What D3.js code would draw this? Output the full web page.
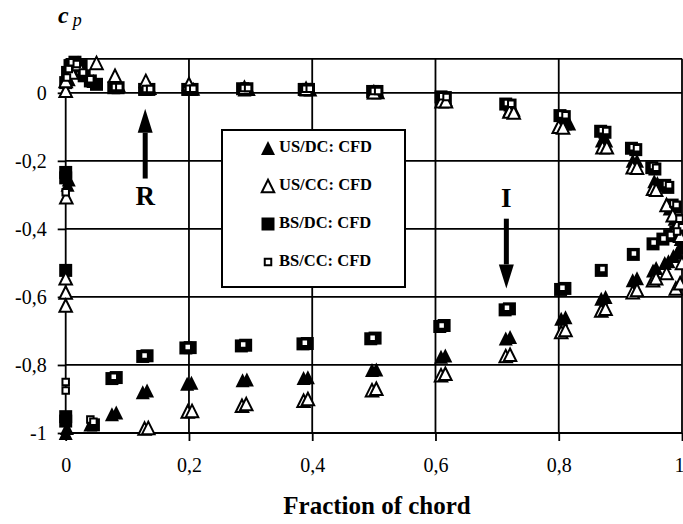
<!DOCTYPE html>
<html>
<head>
<meta charset="utf-8">
<script src="https://cdn.jsdelivr.net/npm/d3@7/dist/d3.min.js"></script>
<style>
  body { margin: 0; background: #fff; }
  text { font-family: "Liberation Serif", "Times New Roman", serif; fill: #000; }
</style>
</head>
<body>
<svg id="chart" width="683" height="524"></svg>
<script>
// tick values
const xTicks = [0, 0.2, 0.4, 0.6, 0.8, 1]
const yTicks = [0, -0.2, -0.4, -0.6, -0.8, -1]

// US/DC: CFD  (filled triangle)  [x/c, cp]
const usDcUpper = [[0, 0.005], [0.005, 0.04], [0.01, 0.07], [0.02, 0.08], [0.03, 0.06], [0.045, 0.035],
  [0.08, 0.02], [0.087, 0.02], [0.13, 0.012], [0.137, 0.014], [0.2, 0.012], [0.207, 0.012],
  [0.29, 0.01], [0.297, 0.011], [0.39, 0.01], [0.397, 0.01], [0.5, 0.002], [0.507, 0.002],
  [0.61, -0.02], [0.617, -0.02], [0.72, -0.05], [0.727, -0.05], [0.81, -0.09], [0.817, -0.09],
  [0.87, -0.14], [0.877, -0.14], [0.92, -0.2], [0.927, -0.2], [0.955, -0.26], [0.96, -0.265],
  [0.975, -0.33], [0.98, -0.34], [0.988, -0.37], [0.993, -0.4], [0.998, -0.43], [1.0, -0.45]]
const usDcLower = [[0, -1.0], [0.002, -0.985], [0.003, -0.27], [0.005, -0.255], [0.04, -0.975],
  [0.075, -0.945], [0.082, -0.94], [0.125, -0.88], [0.132, -0.875], [0.197, -0.855], [0.204, -0.852],
  [0.287, -0.845], [0.294, -0.843], [0.386, -0.838], [0.393, -0.836], [0.497, -0.815], [0.504, -0.813],
  [0.609, -0.776], [0.616, -0.772], [0.714, -0.722], [0.721, -0.718], [0.804, -0.664], [0.811, -0.66],
  [0.869, -0.605], [0.876, -0.6], [0.92, -0.551], [0.927, -0.545], [0.953, -0.522], [0.958, -0.515],
  [0.972, -0.5], [0.978, -0.495], [0.986, -0.48], [0.992, -0.47], [0.997, -0.455]]

// US/CC: CFD  (open triangle)
const usCcUpper = [[0, 0.006], [0, 0.035], [0.01, 0.06], [0.02, 0.085], [0.05, 0.088], [0.08, 0.05],
  [0.13, 0.035], [0.2, 0.026], [0.29, 0.015], [0.39, 0.012], [0.5, 0.002], [0.61, -0.025], [0.617, -0.025],
  [0.72, -0.055], [0.727, -0.058], [0.8, -0.1], [0.807, -0.102], [0.871, -0.16], [0.878, -0.16],
  [0.92, -0.219], [0.927, -0.22], [0.953, -0.282], [0.958, -0.285], [0.975, -0.33], [0.985, -0.36],
  [0.992, -0.39], [0.997, -0.42], [1.0, -0.5]]
const usCcLower = [[0, -0.545], [0, -0.587], [0, -0.625], [0.001, -0.307], [0.128, -0.987], [0.134, -0.985],
  [0.198, -0.937], [0.205, -0.935], [0.286, -0.92], [0.293, -0.915], [0.386, -0.905], [0.393, -0.9],
  [0.497, -0.874], [0.504, -0.87], [0.609, -0.83], [0.616, -0.826], [0.714, -0.774], [0.721, -0.77],
  [0.804, -0.703], [0.811, -0.697], [0.869, -0.64], [0.876, -0.635], [0.92, -0.586], [0.927, -0.58],
  [0.953, -0.551], [0.958, -0.545], [0.975, -0.53], [0.99, -0.575], [0.997, -0.56]]

// BS/DC: CFD  (filled square)
const bsDcUpper = [[0, 0.03], [0.003, 0.06], [0.007, 0.08], [0.015, 0.09], [0.025, 0.08], [0.03, 0.05],
  [0.04, 0.035], [0.05, 0.025], [0.078, 0.015], [0.085, 0.015], [0.128, 0.01], [0.135, 0.01],
  [0.198, 0.01], [0.205, 0.01], [0.287, 0.012], [0.294, 0.012], [0.387, 0.01], [0.394, 0.01],
  [0.498, 0.004], [0.505, 0.004], [0.609, -0.012], [0.616, -0.014], [0.714, -0.033], [0.721, -0.036],
  [0.802, -0.067], [0.809, -0.07], [0.868, -0.113], [0.875, -0.116], [0.918, -0.163], [0.925, -0.167],
  [0.951, -0.22], [0.956, -0.224], [0.972, -0.272], [0.977, -0.278], [0.984, -0.33], [0.989, -0.336],
  [0.994, -0.375], [0.998, -0.4], [1.0, -0.424]]
const bsDcLower = [[0, -0.234], [0, -0.25], [0, -0.522], [0, -0.952], [0, -0.965], [0.045, -0.976],
  [0.075, -0.84], [0.082, -0.837], [0.125, -0.775], [0.132, -0.773], [0.195, -0.75], [0.202, -0.749],
  [0.285, -0.744], [0.292, -0.742], [0.385, -0.738], [0.392, -0.737], [0.495, -0.723], [0.502, -0.721],
  [0.607, -0.687], [0.614, -0.684], [0.713, -0.638], [0.72, -0.635], [0.803, -0.578], [0.81, -0.575],
  [0.869, -0.522], [0.921, -0.475], [0.953, -0.444], [0.969, -0.43], [0.98, -0.42], [0.99, -0.41], [1.0, -0.4]]

// BS/CC: CFD  (open square)
const bsCcUpper = [[0.002, 0.045], [0.005, 0.07], [0.01, 0.09], [0.018, 0.085], [0.028, 0.06], [0.04, 0.04],
  [0.08, 0.017], [0.087, 0.017], [0.13, 0.011], [0.137, 0.011], [0.2, 0.012], [0.207, 0.012],
  [0.289, 0.014], [0.296, 0.014], [0.389, 0.012], [0.396, 0.012], [0.5, 0.005], [0.507, 0.005],
  [0.611, -0.01], [0.618, -0.012], [0.716, -0.03], [0.723, -0.032], [0.804, -0.064], [0.811, -0.066],
  [0.87, -0.11], [0.877, -0.112], [0.92, -0.16], [0.927, -0.163], [0.953, -0.215], [0.958, -0.22],
  [0.974, -0.268], [0.979, -0.272], [0.986, -0.325], [0.991, -0.33], [0.996, -0.37], [1.0, -0.395]]
const bsCcLower = [[0, -0.292], [0, -0.85], [0, -0.875], [0.04, -0.96], [0.045, -0.967], [0.078, -0.835],
  [0.128, -0.772], [0.198, -0.747], [0.288, -0.74], [0.388, -0.735], [0.498, -0.72], [0.61, -0.684],
  [0.716, -0.632], [0.806, -0.573], [0.871, -0.518], [0.922, -0.472], [0.954, -0.44], [0.97, -0.428],
  [0.982, -0.418], [0.992, -0.408]]

// arrows: [x/c, cp tail, cp tip], label cp
const arrowR = {label: "R", x: 0.129, from: -0.252, to: -0.047, labelCp: -0.33}
const arrowI = {label: "I", x: 0.715, from: -0.37, to: -0.575, labelCp: -0.335}

const svg = d3.select('#chart')
svg.append('rect').attr('width', 683).attr('height', 524).attr('fill', '#fff')

const x = d3.scaleLinear().domain([0, 1]).range([65.7, 682])
const y = d3.scaleLinear().domain([-1, 0.1]).range([433, 58.8])
const fmt = d => String(d).replace('.', ',')

// grid
const grid = svg.append('g').attr('stroke', '#000').attr('stroke-width', 1.8)
grid.selectAll('.h').data(yTicks.concat([0.1])).enter().append('line')
  .attr('x1', x(0)).attr('x2', x(1))
  .attr('y1', d => y(d)).attr('y2', d => y(d))
grid.selectAll('.v').data(xTicks).enter().append('line')
  .attr('x1', d => x(d)).attr('x2', d => x(d))
  .attr('y1', y(0.1)).attr('y2', y(-1))

// axes
const yAxis = svg.append('g').attr('transform', `translate(${x(0)},0)`)
  .call(d3.axisLeft(y).tickValues(yTicks).tickFormat(fmt).tickSize(8).tickPadding(11))
const xAxis = svg.append('g').attr('transform', `translate(0,${y(-1)})`)
  .call(d3.axisBottom(x).tickValues(xTicks).tickFormat(fmt).tickSize(8).tickPadding(17))
;[xAxis, yAxis].forEach(a => {
  a.select('.domain').remove()
  a.selectAll('line').attr('stroke', '#000').attr('stroke-width', 1.8)
  a.selectAll('text').attr('font-family', '"Liberation Serif", serif').attr('font-size', 20).attr('fill', '#000')
})
// last x label sits at the right edge
xAxis.selectAll('.tick').filter(d => d === 1).select('text').attr('text-anchor', 'end').attr('x', 2)

// markers
const triPath = (s) => `M0,${-s / 2}L${s / 2},${s / 2}L${-s / 2},${s / 2}Z`
const sqPath = (s) => `M${-s / 2},${-s / 2}h${s}v${s}h${-s}Z`

const series = [
  {name: 'US/DC: CFD', pts: usDcUpper.concat(usDcLower), path: triPath(14), fill: '#000', stroke: 'none', order: 0},
  {name: 'US/CC: CFD', pts: usCcUpper.concat(usCcLower), path: triPath(12.5), fill: '#fff', stroke: '#000', order: 2},
  {name: 'BS/DC: CFD', pts: bsDcUpper.concat(bsDcLower), path: sqPath(13), fill: '#000', stroke: 'none', order: 1},
  {name: 'BS/CC: CFD', pts: bsCcUpper.concat(bsCcLower), path: sqPath(6.5), fill: '#fff', stroke: '#000', order: 3}
]

series.slice().sort((a, b) => a.order - b.order).forEach(s => {
  svg.append('g').selectAll('path').data(s.pts).enter().append('path')
    .attr('d', s.path)
    .attr('transform', d => `translate(${x(d[0])},${y(d[1])})`)
    .attr('fill', s.fill).attr('stroke', s.stroke).attr('stroke-width', 2)
})

// legend
const lg = svg.append('g')
lg.append('rect').attr('x', 222).attr('y', 130).attr('width', 183).attr('height', 157)
  .attr('fill', '#fff').attr('stroke', '#000').attr('stroke-width', 2)
const rowY = [148, 186, 224, 262]
series.forEach((s, i) => {
  lg.append('path').attr('d', s.path).attr('transform', `translate(268,${rowY[i]})`)
    .attr('fill', s.fill).attr('stroke', s.stroke).attr('stroke-width', 2)
  lg.append('text').attr('x', 279).attr('y', rowY[i] + 4)
    .attr('font-size', 16.5).attr('font-weight', 'bold').text(s.name)
})

// arrows
const drawArrow = a => {
  const px = x(a.x), y0 = y(a.from), y1 = y(a.to)
  const dir = y1 < y0 ? -1 : 1
  const headBase = y1 - dir * 24
  svg.append('line').attr('x1', px).attr('x2', px).attr('y1', y0).attr('y2', headBase)
    .attr('stroke', '#000').attr('stroke-width', 5)
  svg.append('path').attr('d', `M${px - 7.5},${headBase}L${px + 7.5},${headBase}L${px},${y1}Z`).attr('fill', '#000')
  svg.append('text').attr('x', px).attr('y', y(a.labelCp)).attr('text-anchor', 'middle')
    .attr('font-size', 27).attr('font-weight', 'bold').text(a.label)
}
drawArrow(arrowR)
drawArrow(arrowI)

// axis titles
const cp = svg.append('text').attr('x', 58).attr('y', 23)
cp.append('tspan').attr('font-size', 24).attr('font-weight', 'bold').attr('font-style', 'italic').text('c')
cp.append('tspan').attr('font-size', 18).attr('font-style', 'italic').attr('dx', 4).attr('dy', 3).text('p')

svg.append('text').attr('x', 377).attr('y', 514).attr('text-anchor', 'middle')
  .attr('font-size', 25).attr('font-weight', 'bold').text('Fraction of chord')
</script>
</body>
</html>
